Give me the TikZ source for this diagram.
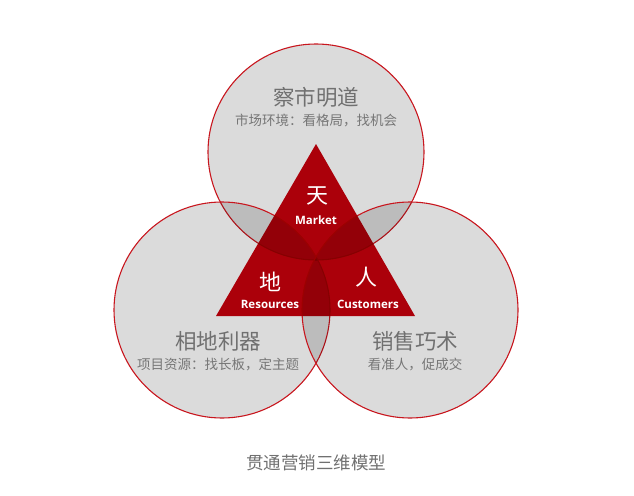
\documentclass[tikz,border=0pt]{standalone}
\usepackage{fontspec}
\setmainfont{Open Sans}
\newfontfamily\cjk{Noto Sans CJK SC}
\usetikzlibrary{positioning}
\definecolor{ringred}{RGB}{200,22,30}
\definecolor{trired}{RGB}{200,0,12}
\definecolor{headgray}{RGB}{112,112,112}
\definecolor{subgray}{RGB}{118,118,118}
\tikzset{
 ring/.style={circle, draw=ringred, line width=1.1pt, fill=black, fill opacity=.14,
              draw opacity=1, minimum size=216pt, inner sep=0pt},
 head/.style={font=\cjk\fontsize{21.5}{23}\selectfont, text=headgray},
 sub/.style={font=\cjk\fontsize{13.5}{15}\selectfont, text=subgray},
 glyph/.style={font=\cjk\fontsize{22}{24}\selectfont, text=white},
 word/.style={font=\bfseries\fontsize{11.5}{14}\selectfont, text=white},
 caption/.style={font=\cjk\fontsize{17.5}{19}\selectfont, text=headgray}
}

\begin{document}
\begin{tikzpicture}[x=1pt,y=-1pt]
\useasboundingbox (0,0) rectangle (634,495);

% three circles
\node[ring] (heaven) at (316,152) {};
\node[ring] (earth) at (222,310) {};
\node[ring] (people) at (410,310) {};

% triangle
\coordinate (apex) at (316,144);
\coordinate (left) at (216,316);
\coordinate (right) at (415,316);
\fill[trired, blend mode=multiply] (apex) -- (left) -- (right) -- cycle;

% circle texts
\node[head] (heavenhead) at (316,97) {察市明道};
\node[sub, below=0pt of heavenhead] (heavensub) {市场环境：看格局，找机会};
\node[head] (earthhead) at (218,341) {相地利器};
\node[sub, below=0pt of earthhead] (earthsub) {项目资源：找长板，定主题};
\node[head] (peoplehead) at (415,341) {销售巧术};
\node[sub, below=0pt of peoplehead] (peoplesub) {看准人，促成交};

% triangle texts
\node[glyph] (tian) at (317,196) {天};
\node[word] (market) at (316,220) {Market};
\node[glyph] (di) at (270,282) {地};
\node[word] (resources) at (270,304) {Resources};
\node[glyph] (ren) at (366,277) {人};
\node[word] (customers) at (368,304) {Customers};

\node[caption] (title) at (316,463) {贯通营销三维模型};
\end{tikzpicture}
\end{document}
